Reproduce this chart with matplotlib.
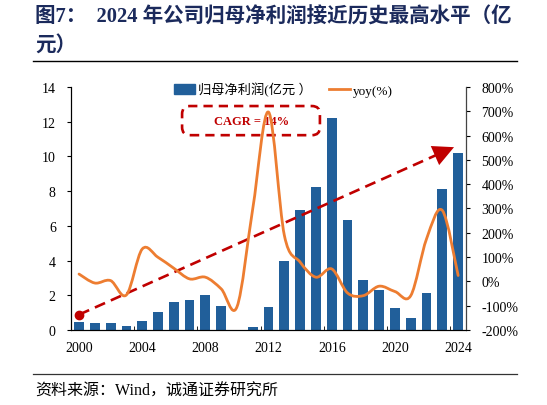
import numpy as np
import matplotlib
matplotlib.use("Agg")
import matplotlib.pyplot as plt
from matplotlib.path import Path
from matplotlib.patches import PathPatch, FancyBboxPatch, Patch
from matplotlib.lines import Line2D
from matplotlib.ticker import FuncFormatter

plt.rcParams['font.family'] = ['Liberation Serif', 'Noto Sans CJK SC']

years = np.arange(2000, 2025)
profit = [0.44, 0.40, 0.40, 0.21, 0.50, 1.02, 1.60, 1.75, 2.04, 1.38,
          0.0, 0.17, 1.33, 3.96, 6.90, 8.25, 12.21, 6.31, 2.85, 2.29,
          1.25, 0.71, 2.12, 8.13, 10.21]
yoy = [30, -7, 3, -56, 133, 99, 54, 10, 17, -31,
       -105, 300, 697, 189, 79, 17, 51, -48, -59, -20,
       -42, -59, 175, 292, 24]
xtick_years = [2000, 2004, 2008, 2012, 2016, 2020, 2024]
cagr_text = "CAGR = 14%"

BLUE = "#215F9A"
ORANGE = "#ED7D31"
RED = "#C00000"
NAVY = "#1B2A5C"


def smooth_path(x, y):
    # Excel-like smoothed line: cubic bezier through every point
    x = np.asarray(x, float)
    y = np.asarray(y, float)
    n = len(x)
    verts = [(x[0], y[0])]
    codes = [Path.MOVETO]
    for i in range(n - 1):
        i0 = max(i - 1, 0)
        i3 = min(i + 2, n - 1)
        c1 = (x[i] + (x[i + 1] - x[i0]) / 6, y[i] + (y[i + 1] - y[i0]) / 6)
        c2 = (x[i + 1] - (x[i3] - x[i]) / 6, y[i + 1] - (y[i3] - y[i]) / 6)
        verts += [c1, c2, (x[i + 1], y[i + 1])]
        codes += [Path.CURVE4] * 3
    return Path(verts, codes)


fig = plt.figure(figsize=(5.47, 4.06), dpi=100)
ax = fig.add_axes([0.130, 0.185, 0.722, 0.598])
ax2 = ax.twinx()

ax.bar(years, profit, width=0.62, color=BLUE, zorder=2)
ax.set_xlim(1999.5, 2024.5)
ax.set_ylim(0, 14)
ax.set_yticks(range(0, 15, 2))
ax.set_xticks(xtick_years)
ax.set_xticks(np.arange(2003.5, 2024, 4), minor=True)
ax.tick_params(axis='x', which='major', length=0, labelsize=10, pad=8)
ax.tick_params(axis='x', which='minor', direction='in', length=3)
ax.tick_params(axis='y', direction='out', length=3, labelsize=10, pad=8)

ax2.set_ylim(-200, 800)
ax2.set_yticks(range(-200, 801, 100))
ax2.yaxis.set_major_formatter(FuncFormatter(lambda v, p: f"{int(v)}%"))
ax2.tick_params(axis='y', direction='out', length=3, labelsize=10, pad=8)

for a in (ax, ax2):
    a.spines['top'].set_visible(False)
ax2.spines['right'].set_color('#444444')

# trend arrow in left-axis data coordinates
start = (2000, 0.88)
tip = (2023.9, 10.6)
ax2.plot([start[0], 2023.2], [start[1], 10.32], transform=ax.transData,
         color=RED, lw=1.9, dashes=(4.2, 2.4), zorder=4)
ax2.plot([start[0]], [start[1]], 'o', ms=6, color=RED,
         transform=ax.transData, zorder=5)
ax2.annotate("", xy=tip, xytext=(2022.6, 10.08), xycoords=ax.transData,
             textcoords=ax.transData,
             arrowprops=dict(arrowstyle='-|>,head_length=1.0,head_width=0.5',
                             color=RED, lw=0, mutation_scale=15), zorder=5)

# CAGR box
box = FancyBboxPatch((0.281, 0.802), 0.349, 0.120,
                     boxstyle="round,pad=0,rounding_size=0.02",
                     mutation_aspect=395 / 243, transform=ax2.transAxes,
                     fill=False, edgecolor=RED, lw=1.9, linestyle=(0, (3.5, 2.3)),
                     zorder=3)
ax2.add_patch(box)
ax2.text(0.456, 0.862, cagr_text, transform=ax2.transAxes, ha='center',
         va='center', color=RED, fontsize=9, fontweight='bold', zorder=3)

# yoy smoothed line
ax2.add_patch(PathPatch(smooth_path(years, yoy), fill=False,
                        edgecolor=ORANGE, lw=2.0, zorder=4.5,
                        capstyle='round', joinstyle='round'))

handles = [Patch(color=BLUE), Line2D([], [], color=ORANGE, lw=2.0)]
ax2.legend(handles, ["归母净利润(亿元 ）", "yoy(%)"], ncol=2, frameon=False,
           loc='center', bbox_to_anchor=(0.537, 0.99), fontsize=9.5,
           handlelength=1.6, handletextpad=0.2, columnspacing=1.3)

# title, rules and source
fig.text(0.064, 0.958, "图7：  2024 年公司归母净利润接近历史最高水平（亿",
         fontsize=14.8, fontweight='bold', color=NAVY, va='center')
fig.text(0.064, 0.888, "元）", fontsize=14.8, fontweight='bold', color=NAVY,
         va='center')
fig.add_artist(Line2D([0.060, 0.946], [0.847, 0.847], color='black', lw=1.0))
fig.add_artist(Line2D([0.060, 0.946], [0.076, 0.076], color='#333333', lw=0.9))
fig.text(0.064, 0.035, "资料来源：Wind，诚通证券研究所", fontsize=11.5,
         color='black', va='center')

fig.savefig("out.png", dpi=100)
